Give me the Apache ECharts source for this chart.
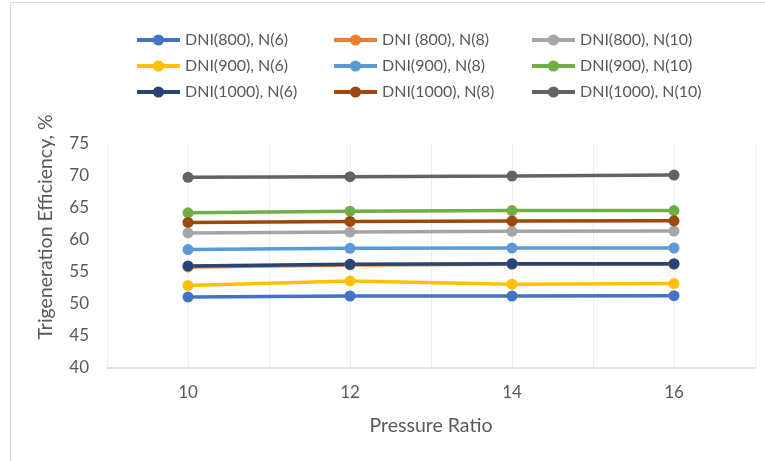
<!DOCTYPE html>
<html>
<head>
<meta charset="utf-8">
<script src="https://cdn.jsdelivr.net/npm/echarts@6/dist/echarts.min.js"></script>
<style>
  html, body { margin: 0; padding: 0; background: #ffffff; }
  #chart { width: 765px; height: 461px; }
</style>
</head>
<body>
<div id="chart"></div>
<script>
// Pressure ratio (x) and trigeneration efficiency (%) per DNI / N combination
const pressureRatio = [10, 12, 14, 16];
const dni800_n6   = [51.1, 51.25, 51.25, 51.3];
const dni800_n8   = [55.8, 56.1, 56.2, 56.2];
const dni800_n10  = [61.1, 61.25, 61.35, 61.4];
const dni900_n6   = [52.9, 53.6, 53.1, 53.2];
const dni900_n8   = [58.5, 58.7, 58.75, 58.75];
const dni900_n10  = [64.25, 64.5, 64.6, 64.6];
const dni1000_n6  = [55.95, 56.2, 56.3, 56.3];
const dni1000_n8  = [62.75, 62.9, 62.95, 63.0];
const dni1000_n10 = [69.8, 69.9, 70.0, 70.15];

const seriesNames = [
  'DNI(800), N(6)', 'DNI (800), N(8)', 'DNI(800), N(10)',
  'DNI(900), N(6)', 'DNI(900), N(8)', 'DNI(900), N(10)',
  'DNI(1000), N(6)', 'DNI(1000), N(8)', 'DNI(1000), N(10)'
];
const seriesValues = [
  dni800_n6, dni800_n8, dni800_n10,
  dni900_n6, dni900_n8, dni900_n10,
  dni1000_n6, dni1000_n8, dni1000_n10
];
const seriesColors = [
  '#4472C4', '#ED7D31', '#A5A5A5',
  '#FFC000', '#5B9BD5', '#70AD47',
  '#264478', '#9E480E', '#636363'
];

const FONT = 'Lato';
const TEXT = '#595959';

const chart = echarts.init(document.getElementById('chart'), null, { renderer: 'canvas' });

const series = seriesNames.map((name, k) => ({
  name: name,
  type: 'line',
  data: pressureRatio.map((x, i) => [x, seriesValues[k][i]]),
  symbol: 'circle',
  symbolSize: 11,
  color: seriesColors[k],
  lineStyle: { width: 3.5, color: seriesColors[k] },
  itemStyle: { color: seriesColors[k] },
  emphasis: { disabled: true },
  animation: false
}));

// One vertical legend per column, three rows each
function legendColumn(left, names) {
  return {
    orient: 'vertical',
    left: left,
    top: 32,
    padding: 0,
    itemWidth: 43,
    itemHeight: 14,
    itemGap: 10,
    lineStyle: { width: 4 },
    data: names,
    textStyle: { fontFamily: FONT, fontSize: 16, lineHeight: 16, color: TEXT }
  };
}

chart.setOption({
  backgroundColor: '#ffffff',
  animation: false,
  legend: [
    legendColumn(135, [seriesNames[0], seriesNames[3], seriesNames[6]]),
    legendColumn(332, [seriesNames[1], seriesNames[4], seriesNames[7]]),
    legendColumn(530, [seriesNames[2], seriesNames[5], seriesNames[8]])
  ],
  grid: { left: 107, right: 10, top: 144, bottom: 93 },
  xAxis: {
    type: 'value',
    min: 9,
    max: 17,
    interval: 1,
    name: 'Pressure Ratio',
    nameLocation: 'middle',
    nameGap: 48,
    nameTextStyle: { fontFamily: FONT, fontSize: 19.5, color: TEXT },
    axisLine: { show: true, lineStyle: { color: '#d9d9d9', width: 1.5 } },
    axisTick: { show: false },
    axisLabel: {
      fontFamily: FONT, fontSize: 17, color: TEXT, margin: 16,
      formatter: v => (v % 2 === 0 ? String(v) : '')
    },
    splitLine: { show: true, lineStyle: { color: '#efefef', width: 1 } }
  },
  yAxis: {
    type: 'value',
    min: 40,
    max: 75,
    interval: 5,
    axisLine: { show: false },
    axisTick: { show: false },
    axisLabel: { fontFamily: FONT, fontSize: 17, color: TEXT, margin: 18 },
    splitLine: { show: false }
  },
  graphic: [
    {
      type: 'rect',
      silent: true,
      shape: { x: 10.5, y: 2.5, width: 800, height: 500 },
      style: { fill: 'none', stroke: '#d9d9d9', lineWidth: 1 }
    },
    {
      type: 'text',
      silent: true,
      x: 46,
      y: 227,
      rotation: Math.PI / 2,
      style: {
        text: 'Trigeneration Efficiency, %',
        fontFamily: FONT, fontSize: 19.5, fill: TEXT,
        align: 'center', verticalAlign: 'middle'
      }
    }
  ],
  series: series
});
</script>
</body>
</html>
